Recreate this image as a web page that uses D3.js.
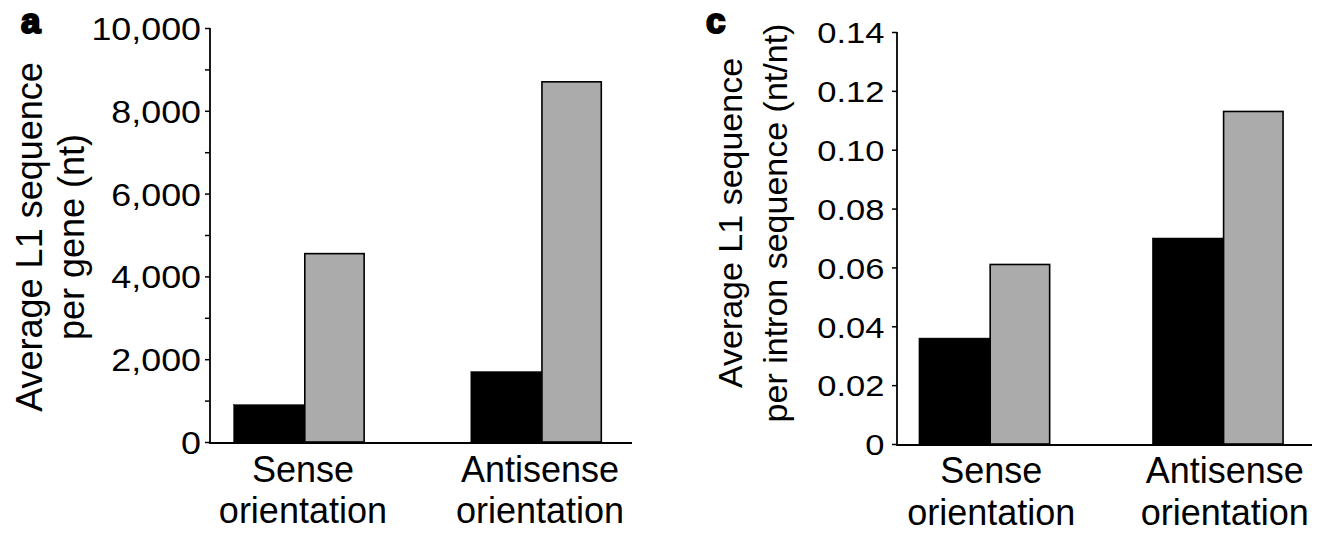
<!DOCTYPE html>
<html>
<head>
  <meta charset="utf-8">
  <title>L1 sequence in genes</title>
  <script src="https://d3js.org/d3.v7.min.js"></script>
  <style>
    html, body {
      margin: 0;
      background: #fff;
    }
    svg text {
      font-family: "Liberation Sans", Arial, Helvetica, sans-serif;
      fill: #000;
    }
    .domain { display: none; }
  </style>
</head>
<body>
  <svg id="chart" width="1319" height="536"></svg>
  <script>
  // data
  const categories = ["Sense", "Antisense"];
  const series = ["black", "grey"];
  const perGene = [[900, 4550], [1700, 8700]];            // panel a, nt
  const perIntron = [[0.036, 0.061], [0.07, 0.113]];      // panel c, nt/nt
  const geneTicks = [0, 2000, 4000, 6000, 8000, 10000];
  const geneMinor = [1000, 3000, 5000, 7000, 9000];
  const intronTicks = [0, 0.02, 0.04, 0.06, 0.08, 0.10, 0.12, 0.14];

  const svg = d3.select("#chart");
  const fills = { black: "#000", grey: "#ababab" };
  const blackShare = 0.545;  // black bars are a bit wider than grey ones

  function panel(opt) {
    const g = svg.append("g");
    const y = d3.scaleLinear().domain(opt.domain).range([opt.y0, opt.y1]);
    const x = d3.scaleBand().domain(categories)
      .range([opt.xAxis, opt.xEnd])
      .paddingInner(opt.pi).paddingOuter(opt.po);

    // bars
    categories.forEach((cat, i) => {
      const bw = x.bandwidth();
      const parts = [
        { s: "black", x: x(cat), w: bw * blackShare, v: opt.values[i][0] },
        { s: "grey", x: x(cat) + bw * blackShare, w: bw * (1 - blackShare), v: opt.values[i][1] }
      ];
      g.selectAll(null).data(parts).join("rect")
        .attr("x", d => d.x)
        .attr("width", d => d.w)
        .attr("y", d => y(d.v))
        .attr("height", d => y(0) - y(d.v))
        .attr("fill", d => fills[d.s])
        .attr("stroke", "#000")
        .attr("stroke-width", d => d.s === "grey" ? 1.6 : 0.5);
    });

    // y axis
    const ax = g.append("g").attr("transform", `translate(${opt.xAxis},0)`)
      .call(d3.axisLeft(y).tickValues(opt.ticks).tickSize(5).tickPadding(opt.pad)
        .tickFormat(opt.fmt));
    ax.selectAll(".tick line").attr("stroke", "#000").attr("stroke-width", 1.5);
    ax.selectAll(".tick text")
      .style("font-size", opt.tickFont + "px")
      .attr("transform", `scale(${opt.stretch},1)`)
      .attr("dy", "0.36em");
    if (opt.minor) {
      g.append("g").attr("transform", `translate(${opt.xAxis},0)`)
        .call(d3.axisLeft(y).tickValues(opt.minor).tickSize(5).tickFormat(""))
        .selectAll(".tick line").attr("stroke", "#000").attr("stroke-width", 1.5);
    }
    g.append("line")
      .attr("x1", opt.xAxis).attr("x2", opt.xAxis)
      .attr("y1", y(opt.domain[1])).attr("y2", y(0) + 2)
      .attr("stroke", "#000").attr("stroke-width", 1.8);
    g.append("line")
      .attr("x1", opt.xAxis).attr("x2", opt.xLine)
      .attr("y1", y(0) + 1).attr("y2", y(0) + 1)
      .attr("stroke", "#000").attr("stroke-width", 1.8);

    // category labels
    categories.forEach(cat => {
      const cx = x(cat) + x.bandwidth() / 2 + opt.labelShift;
      const t = g.append("text")
        .attr("text-anchor", "middle")
        .style("font-size", "36px");
      t.append("tspan").attr("x", cx).attr("y", opt.catY[0]).text(cat);
      t.append("tspan").attr("x", cx).attr("y", opt.catY[1]).text("orientation");
    });

    // axis title
    const title = g.append("text")
      .attr("text-anchor", "middle")
      .attr("transform", `translate(0,${opt.titleY}) rotate(-90)`)
      .style("font-size", opt.titleFont + "px");
    opt.title.forEach((line, i) => {
      title.append("tspan").attr("x", 0).attr("y", opt.titleX[i]).text(line);
    });

    // panel letter
    g.append("text")
      .attr("x", opt.letterX).attr("y", 33)
      .style("font-size", "35px").style("font-weight", "bold")
      .attr("stroke", "#000").attr("stroke-width", 2.2)
      .text(opt.letter);
  }

  panel({
    values: perGene, domain: [0, 10000], y0: 442, y1: 28,
    xAxis: 210, xEnd: 625, xLine: 632, pi: 0.45, po: 0.1,
    ticks: geneTicks, minor: geneMinor, fmt: d3.format(","),
    tickFont: 32, stretch: 1.12, pad: 3,
    labelShift: 4, catY: [482, 523],
    title: ["Average L1 sequence", "per gene (nt)"], titleX: [42, 84], titleY: 237, titleFont: 36,
    letter: "a", letterX: 21
  });

  panel({
    values: perIntron, domain: [0, 0.14], y0: 444, y1: 32,
    xAxis: 897, xEnd: 1305, xLine: 1312, pi: 0.44, po: 0.094,
    ticks: intronTicks, minor: null, fmt: d => d === 0 ? "0" : d3.format(".2f")(d),
    tickFont: 30, stretch: 1.15, pad: 6,
    labelShift: 7, catY: [483, 525],
    title: ["Average L1 sequence", "per intron sequence (nt/nt)"], titleX: [742, 787], titleY: 223, titleFont: 34,
    letter: "c", letterX: 706
  });
  </script>
</body>
</html>
